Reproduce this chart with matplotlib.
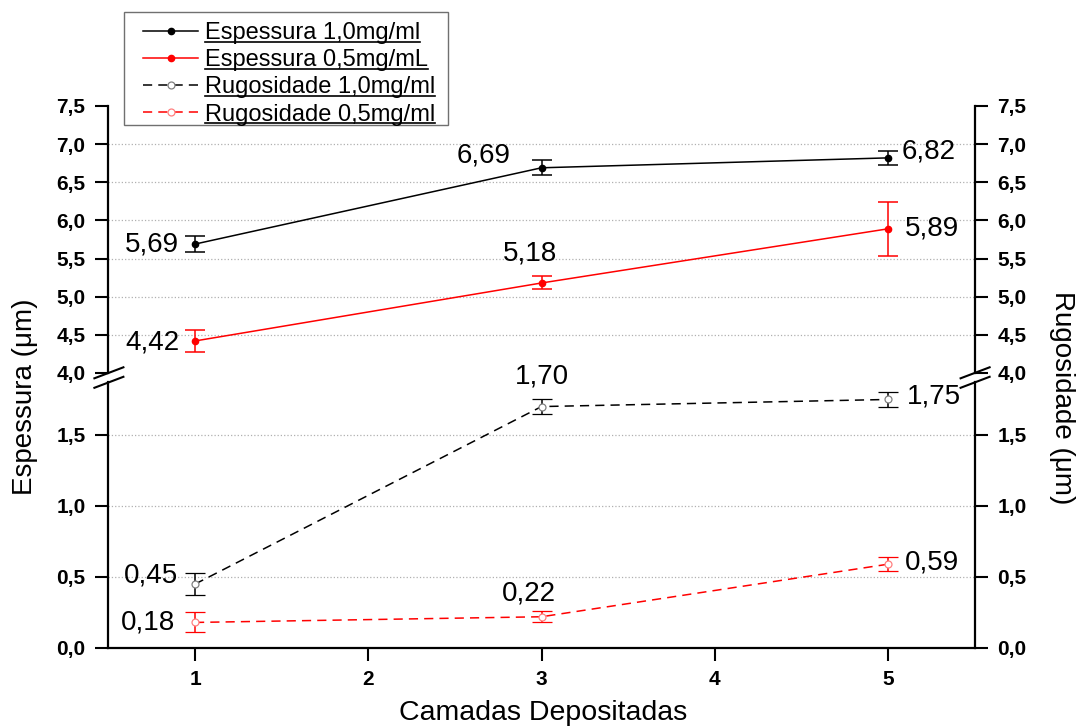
import matplotlib
matplotlib.use('Agg')
import matplotlib.pyplot as plt
from matplotlib.ticker import FuncFormatter, FixedLocator
from matplotlib.lines import Line2D
from matplotlib.patches import Rectangle

plt.rcParams['font.family'] = ['Liberation Sans', 'DejaVu Sans']

# ---------------- data ----------------
camadas = [1, 3, 5]
x_ticks = [1, 2, 3, 4, 5]

esp_10 = [5.69, 6.69, 6.82]
esp_10_err = [0.10, 0.10, 0.09]
esp_05 = [4.42, 5.18, 5.89]
esp_05_err = [0.14, 0.085, 0.35]
rug_10 = [0.45, 1.70, 1.75]
rug_10_err = [0.08, 0.05, 0.05]
rug_05 = [0.18, 0.22, 0.59]
rug_05_err = [0.07, 0.04, 0.05]

upper_ticks = [4.0, 4.5, 5.0, 5.5, 6.0, 6.5, 7.0, 7.5]
lower_ticks = [0.0, 0.5, 1.0, 1.5]

labels = ['Espessura 1,0mg/ml', 'Espessura 0,5mg/mL',
          'Rugosidade 1,0mg/ml', 'Rugosidade 0,5mg/ml']

# ---------------- layout ----------------
W, H = 1080, 727
fig = plt.figure(figsize=(10.8, 7.27), dpi=100)

ax_l, ax_r = 108.4, 974.6
lo_bot, lo_top = 648, 382
up_bot, up_top = 373, 106


def fx(px):
    return px / W


def fy(py):
    return 1 - py / H


ax_up = fig.add_axes([fx(ax_l), fy(up_bot), fx(ax_r - ax_l), (up_bot - up_top) / H])
ax_lo = fig.add_axes([fx(ax_l), fy(lo_bot), fx(ax_r - ax_l), (lo_bot - lo_top) / H])

fmt = FuncFormatter(lambda v, p: f"{v:.1f}".replace('.', ','))

for ax in (ax_up, ax_lo):
    ax.set_xlim(0.5, 5.5)
    ax.spines['top'].set_visible(False)
    for s in ('left', 'right', 'bottom'):
        ax.spines[s].set_linewidth(1.6)
    ax.tick_params(axis='y', which='major', direction='out', length=9.5, width=1.5,
                   left=True, right=True, labelleft=True, labelright=True,
                   labelsize=15, pad=7)
    ax.yaxis.set_major_formatter(fmt)

ax_up.set_ylim(4.0, 7.5)
ax_up.yaxis.set_major_locator(FixedLocator(upper_ticks))
ax_up.spines['bottom'].set_visible(False)
ax_up.tick_params(axis='x', bottom=False, labelbottom=False)

ax_lo.set_ylim(0, 1.873)
ax_lo.yaxis.set_major_locator(FixedLocator(lower_ticks))
ax_lo.xaxis.set_major_locator(FixedLocator(x_ticks))
ax_lo.tick_params(axis='x', direction='out', length=9.5, width=1.5, labelsize=15, pad=6)

for ax in (ax_up, ax_lo):
    for lab in ax.get_yticklabels() + ax.get_xticklabels():
        lab.set_fontweight('bold')

# interior gridlines
grid_kw = dict(color='#b0b0b0', linestyle=':', linewidth=0.9, zorder=0)
for t in upper_ticks[1:-1]:
    ax_up.axhline(t, **grid_kw)
for t in lower_ticks[1:]:
    ax_lo.axhline(t, **grid_kw)

# ---------------- series ----------------
eb_kw = dict(capsize=7, elinewidth=1.1, capthick=1.1, linewidth=1.1)
c1 = ax_up.errorbar(camadas, esp_10, yerr=esp_10_err, color='black', marker='o',
                    markersize=4.5, **eb_kw)
c2 = ax_up.errorbar(camadas, esp_05, yerr=esp_05_err, color='red', marker='o',
                    markersize=4.5, **eb_kw)
c3 = ax_lo.errorbar(camadas, rug_10, yerr=rug_10_err, color='black', marker='o',
                    markersize=5, markerfacecolor='white', markeredgecolor='#808080',
                    markeredgewidth=0.9, linestyle=(0, (6, 4)), **eb_kw)
c4 = ax_lo.errorbar(camadas, rug_05, yerr=rug_05_err, color='red', marker='o',
                    markersize=5, markerfacecolor='white', markeredgecolor='#ff8080',
                    markeredgewidth=0.9, linestyle=(0, (6, 4)), **eb_kw)

# value annotations (offsets in points relative to each point)
ann_layout = {
    'esp_10': [(-11.5, 0, 'right'), (-42, 8.8, 'center'), (10, 4.3, 'left')],
    'esp_05': [(-11, -1, 'right'), (-8.6, 21, 'center'), (12, 0, 'left')],
    'rug_10': [(-12, 6, 'right'), (0, 22, 'center'), (13.5, 2, 'left')],
    'rug_05': [(-14, 0, 'right'), (-9, 17, 'center'), (12, 1.5, 'left')],
}
series = [(ax_up, esp_10, 'esp_10'), (ax_up, esp_05, 'esp_05'),
          (ax_lo, rug_10, 'rug_10'), (ax_lo, rug_05, 'rug_05')]
for ax, vals, key in series:
    for x, v, (dx, dy, ha) in zip(camadas, vals, ann_layout[key]):
        ax.annotate(f"{v:.2f}".replace('.', ','), xy=(x, v), xytext=(dx, dy),
                    textcoords='offset points', ha=ha, va='center', fontsize=20,
                    color='black')

# ---------------- axis labels ----------------
fig.text(fx(543), fy(713), 'Camadas Depositadas', ha='center', va='center', fontsize=20.5)
fig.text(fx(25), fy(397), 'Espessura (\u03bcm)', ha='center', va='center',
         rotation=90, fontsize=20)
fig.text(fx(1062), fy(398), 'Rugosidade (\u03bcm)', ha='center', va='center',
         rotation=270, fontsize=20)

# ---------------- break marks ----------------
for xs in (ax_l, ax_r):
    for yc in (373, 382.5):
        fig.add_artist(Line2D([fx(xs - 14), fx(xs + 15)],
                              [fy(yc + 5.3), fy(yc - 5.7)],
                              color='black', linewidth=1.5,
                              transform=fig.transFigure))

# ---------------- legend ----------------
fig.add_artist(Rectangle((fx(124), fy(125)), fx(448 - 124), (125 - 12) / H,
                         facecolor='white', edgecolor='#707070', linewidth=1.0,
                         transform=fig.transFigure, zorder=4.5))
handles = [c1.lines[0], c2.lines[0], c3.lines[0], c4.lines[0]]
leg = fig.legend(handles, labels, loc='upper left', bbox_to_anchor=(fx(143), fy(22)),
                 fontsize=17, frameon=False, handlelength=2.33, handletextpad=0.3,
                 labelspacing=0.22, borderpad=0, borderaxespad=0, numpoints=1)

fig.canvas.draw()
renderer = fig.canvas.get_renderer()
inv = fig.transFigure.inverted()
for t in leg.get_texts():
    bb = t.get_window_extent(renderer)
    (x0, y0), (x1, _) = inv.transform([(bb.x0, bb.y0 + 2.5), (bb.x1, bb.y0 + 2.5)])
    fig.add_artist(Line2D([x0, x1], [y0, y0], color='black', linewidth=1.2,
                          transform=fig.transFigure, zorder=10))

fig.savefig('out.png', dpi=100)
